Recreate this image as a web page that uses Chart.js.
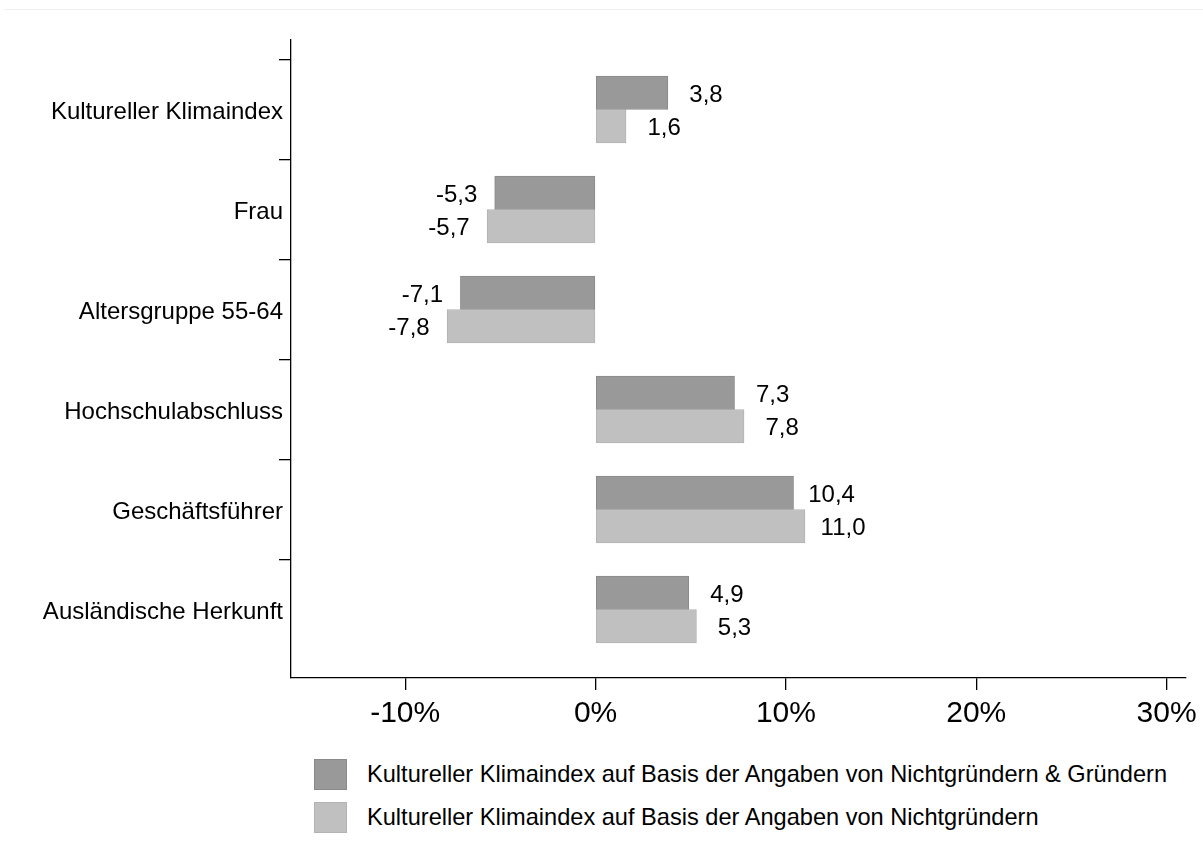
<!DOCTYPE html>
<html>
<head>
<meta charset="utf-8">
<script src="https://cdn.jsdelivr.net/npm/chart.js@4/dist/chart.umd.min.js"></script>
<style>
  body { margin: 0; background: #fff; font-family: Arial, "Liberation Sans", sans-serif; }
  .page { position: relative; width: 1203px; height: 855px; overflow: hidden; }
  .topline { position: absolute; top: 9px; left: 4px; right: 0; height: 1px; background: #f0f0f0; }
  #chart { position: absolute; left: 0; top: 0; }
  .legend { position: absolute; left: 314px; top: 759px; }
  .legend-item { display: flex; align-items: center; height: 31px; margin-bottom: 11.5px; }
  .legend-box { width: 31px; height: 29px; border: 1px solid; margin-right: 20px; }
  .legend-text { font-size: 23.6px; color: #000; white-space: nowrap; }
</style>
</head>
<body>
<div class="page">
  <div class="topline"></div>
  <canvas id="chart" width="1203" height="745"></canvas>
  <div class="legend"></div>
</div>

<script>
// ********* Data *********

const categories = [
  'Kultureller Klimaindex',
  'Frau',
  'Altersgruppe 55-64',
  'Hochschulabschluss',
  'Geschäftsführer',
  'Ausländische Herkunft'
];

// Nichtgründer & Gründer
const allValues = [3.8, -5.3, -7.1, 7.3, 10.4, 4.9];
// nur Nichtgründer
const nonFounderValues = [1.6, -5.7, -7.8, 7.8, 11.0, 5.3];

const seriesLabels = [
  'Kultureller Klimaindex auf Basis der Angaben von Nichtgründern & Gründern',
  'Kultureller Klimaindex auf Basis der Angaben von Nichtgründern'
];

const xTicks = [-10, 0, 10, 20, 30];

const colors = ['#999999', '#c0c0c0'];
const borders = ['#8a8a8a', '#b3b3b3'];

const fmt = v => v.toFixed(1).replace('.', ',');

Chart.defaults.font.family = 'Arial, "Liberation Sans", sans-serif';
Chart.defaults.color = '#000';

// ********* Value labels next to the bars *********

const valueLabels = {
  id: 'valueLabels',
  afterDatasetsDraw(chart) {
    const ctx = chart.ctx;
    const xs = chart.scales.x;
    ctx.save();
    ctx.font = '24px Arial, "Liberation Sans", sans-serif';
    ctx.fillStyle = '#000';
    ctx.textAlign = 'center';
    ctx.textBaseline = 'middle';
    chart.data.datasets.forEach((ds, i) => {
      chart.getDatasetMeta(i).data.forEach((bar, j) => {
        const v = ds.data[j].x;
        const x = xs.getPixelForValue(v + (v >= 0 ? 2 : -2));
        ctx.fillText(fmt(v), x, bar.y + 2.5);
      });
    });
    ctx.restore();
  }
};

// ********* Chart *********

const series = [allValues, nonFounderValues];

const chart = new Chart(document.getElementById('chart'), {
  type: 'bar',
  data: {
    datasets: series.map((vals, i) => ({
      label: seriesLabels[i],
      data: vals.map((v, j) => ({ x: v, y: j })),
      backgroundColor: colors[i],
      borderColor: borders[i],
      borderWidth: 1,
      borderSkipped: false,
      barThickness: 33.5
    }))
  },
  options: {
    indexAxis: 'y',
    responsive: false,
    animation: false,
    layout: { padding: { top: 40, right: 16.6, bottom: 0, left: 0 } },
    plugins: {
      legend: { display: false },
      tooltip: { enabled: false }
    },
    scales: {
      x: {
        type: 'linear',
        min: -16,
        max: 31,
        offset: false,
        afterBuildTicks: axis => { axis.ticks = xTicks.map(v => ({ value: v })); },
        afterFit: axis => { axis.height = 67; },
        grid: { drawOnChartArea: false, offset: false, tickLength: 12, color: '#000', lineWidth: 1.3 },
        border: { display: true, color: '#000', width: 1.3 },
        ticks: {
          font: { size: 30 },
          padding: 6,
          callback: v => v + '%'
        }
      },
      y: {
        type: 'linear',
        reverse: true,
        min: -0.695,
        max: 5.685,
        offset: false,
        afterBuildTicks: axis => {
          const t = [];
          categories.forEach((c, i) => {
            t.push({ value: i - 0.5 });
            t.push({ value: i });
          });
          axis.ticks = t;
        },
        afterFit: axis => { axis.width = 291; },
        grid: {
          drawOnChartArea: false,
          offset: false,
          tickLength: 12,
          lineWidth: 1.3,
          color: ctx => (ctx.tick && Number.isInteger(ctx.tick.value)) ? 'rgba(0,0,0,0)' : '#000'
        },
        border: { display: true, color: '#000', width: 1.3 },
        ticks: {
          font: { size: 24 },
          padding: -4,
          labelOffset: 2.5,
          autoSkip: false,
          callback: v => Number.isInteger(v) ? categories[v] : ''
        }
      }
    }
  },
  plugins: [valueLabels]
});

// ********* Legend *********

const legend = document.querySelector('.legend');
seriesLabels.forEach((label, i) => {
  legend.innerHTML += `<div class="legend-item">
      <div class="legend-box" style="background:${colors[i]};border-color:${borders[i]}"></div>
      <div class="legend-text">${label}</div>
    </div>`;
});
</script>
</body>
</html>
